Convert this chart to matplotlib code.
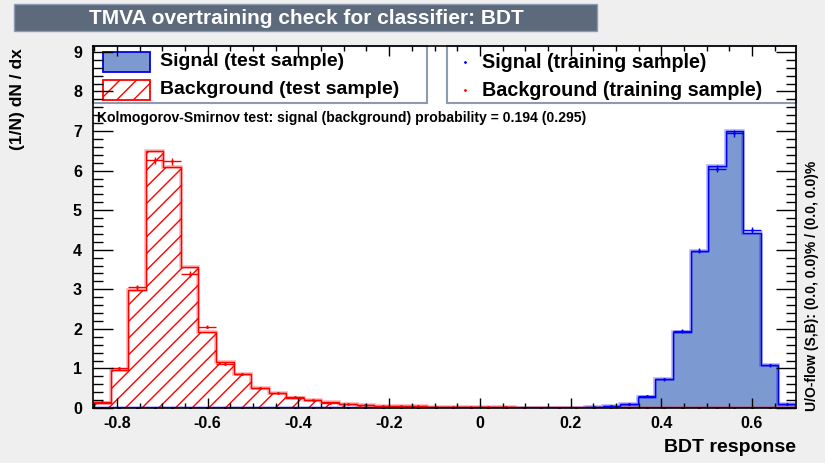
import numpy as np
import matplotlib.pyplot as plt
from matplotlib.patches import Rectangle
from matplotlib.ticker import MultipleLocator

plt.rcParams['font.family'] = ['Liberation Sans', 'DejaVu Sans']
plt.rcParams['font.weight'] = 'bold'
plt.rcParams['hatch.linewidth'] = 1.0

# 40 bins of BDT response
xmin, xmax = -0.853, 0.697
nbins = 40

sig_test = [0, 0, 0, 0, 0, 0, 0, 0, 0, 0,
            0, 0, 0, 0, 0, 0, 0, 0, 0, 0,
            0.005, 0.005, 0.005, 0.005, 0.005, 0.005, 0.01, 0.01, 0.03, 0.05,
            0.10, 0.29, 0.73, 1.93, 3.96, 6.11, 6.99, 4.43, 1.09, 0.10]
sig_train = [0, 0, 0, 0, 0, 0, 0, 0, 0, 0,
             0, 0, 0, 0, 0, 0, 0, 0, 0, 0,
             0.005, 0.005, 0.005, 0.005, 0.005, 0.01, 0.01, 0.01, 0.03, 0.05,
             0.10, 0.30, 0.73, 1.95, 3.98, 6.05, 6.94, 4.50, 1.08, 0.10]
sig_err = [0, 0, 0, 0, 0, 0, 0, 0, 0, 0,
           0, 0, 0, 0, 0, 0, 0, 0, 0, 0,
           0.005, 0.005, 0.005, 0.005, 0.005, 0.005, 0.005, 0.005, 0.01, 0.01,
           0.02, 0.03, 0.04, 0.05, 0.06, 0.08, 0.09, 0.07, 0.04, 0.01]

bkg_test = [0.12, 0.96, 2.97, 6.50, 6.09, 3.56, 1.93, 1.17, 0.85, 0.50,
            0.37, 0.25, 0.19, 0.14, 0.10, 0.08, 0.06, 0.05, 0.04, 0.03,
            0.03, 0.02, 0.02, 0.02, 0.01, 0.01, 0.01, 0.01, 0.01, 0.005,
            0.005, 0, 0, 0, 0, 0, 0, 0, 0, 0]
bkg_train = [0.15, 1.00, 3.05, 6.26, 6.24, 3.39, 2.06, 1.12, 0.86, 0.50,
             0.37, 0.27, 0.19, 0.13, 0.10, 0.08, 0.06, 0.05, 0.04, 0.03,
             0.03, 0.02, 0.02, 0.02, 0.01, 0.01, 0.01, 0.01, 0.01, 0.005,
             0.005, 0, 0, 0, 0, 0, 0, 0, 0, 0]
bkg_err = [0.02, 0.04, 0.06, 0.09, 0.09, 0.07, 0.05, 0.04, 0.03, 0.03,
           0.02, 0.02, 0.02, 0.01, 0.01, 0.01, 0.01, 0.01, 0.01, 0.01,
           0.01, 0.01, 0.01, 0.01, 0.005, 0.005, 0.005, 0.005, 0.005, 0.005,
           0.005, 0, 0, 0, 0, 0, 0, 0, 0, 0]

W, H = 825, 463
def fx(x): return x / W
def fy(y): return 1 - y / H

fig = plt.figure(figsize=(8.25, 4.63), dpi=100, facecolor='#efefef')
ax = fig.add_axes([fx(93), fy(408), fx(796) - fx(93), fy(46) - fy(408)])
ax.set_facecolor('white')
tf = fig.transFigure

edges = np.linspace(xmin, xmax, nbins + 1)
centers = 0.5 * (edges[1:] + edges[:-1])
bw = edges[1] - edges[0]

sigcol = '#7d99d1'
# signal test
ax.stairs(sig_test, edges, fill=True, facecolor=sigcol, edgecolor='none', zorder=2)
ax.stairs(sig_test, edges, color='#0000ee', lw=2.6, alpha=0.3, zorder=3)
ax.stairs(sig_test, edges, color='#0000ee', lw=1.0, zorder=3)
# background test
ax.stairs(bkg_test, edges, fill=True, facecolor='none', edgecolor='red', hatch='//', lw=0, zorder=2)
ax.stairs(bkg_test, edges, color='red', lw=2.6, alpha=0.3, zorder=3)
ax.stairs(bkg_test, edges, color='red', lw=1.0, zorder=3)

# training points
ax.errorbar(centers, sig_train, xerr=bw / 2, yerr=sig_err, fmt='.', ms=2,
            color='blue', lw=1, capsize=0, zorder=4)
ax.errorbar(centers, bkg_train, xerr=bw / 2, yerr=bkg_err, fmt='.', ms=2,
            color='red', lw=1, capsize=0, zorder=4)

ax.set_xlim(xmin, xmax)
ax.set_ylim(0, 9.15)
ax.xaxis.set_major_locator(MultipleLocator(0.2))
ax.xaxis.set_minor_locator(MultipleLocator(0.05))
ax.yaxis.set_major_locator(MultipleLocator(1))
ax.yaxis.set_minor_locator(MultipleLocator(0.2))
ax.tick_params(axis='both', which='both', direction='in', top=True, right=True,
               labelsize=11.5, width=1)
ax.tick_params(axis='x', which='major', length=7.2, pad=6)
ax.tick_params(axis='x', which='minor', length=3.6)
ax.tick_params(axis='y', which='major', length=14.4, pad=8)
ax.tick_params(axis='y', which='minor', length=7.2)
ax.set_xticks(ax.get_xticks())
ax.set_xticklabels(['%g' % t if abs(t) > 1e-9 else '0' for t in ax.get_xticks()])
ax.set_xlim(xmin, xmax)
for lab in ax.get_xticklabels() + ax.get_yticklabels():
    lab.set_fontweight('bold')
for s in ax.spines.values():
    s.set_linewidth(1.2)
    s.set_zorder(7)
ax.xaxis.set_zorder(7)
ax.yaxis.set_zorder(7)

# title box
fig.add_artist(Rectangle((fx(14), fy(31)), fx(597) - fx(14), fy(4) - fy(31),
                         transform=tf, facecolor='#5c6a7c',
                         edgecolor='#8c9bb0', lw=1))
fig.text(fx(306), fy(18), 'TMVA overtraining check for classifier: BDT',
         color='white', fontsize=15, fontweight='bold', ha='center', va='center')

# legend boxes (drawn under the axis ticks)
for x0, x1 in [(93, 427), (447, 796)]:
    ax.add_patch(Rectangle((fx(x0), fy(103)), fx(x1) - fx(x0), fy(46) - fy(103),
                           transform=tf, facecolor='white', clip_on=False,
                           edgecolor='#8c9bb0', lw=1.5, zorder=5))
ax.add_patch(Rectangle((fx(103), fy(72)), fx(150) - fx(103), fy(52) - fy(72),
                       transform=tf, facecolor=sigcol, clip_on=False,
                       edgecolor='#0000ee', lw=1.3, zorder=6))
ax.add_patch(Rectangle((fx(103), fy(100)), fx(150) - fx(103), fy(80) - fy(100),
                       transform=tf, facecolor='white', clip_on=False,
                       edgecolor='red', hatch='//', lw=1.3, zorder=6))
ax.text(fx(160), fy(62), 'Signal (test sample)', fontsize=14, fontweight='bold',
        va='center', transform=tf, zorder=6)
ax.text(fx(160), fy(90), 'Background (test sample)', fontsize=14, fontweight='bold',
        va='center', transform=tf, zorder=6)
ax.plot([fx(465)], [fy(62)], '.', color='blue', ms=2, transform=tf, clip_on=False, zorder=6)
ax.plot([fx(465)], [fy(90)], '.', color='red', ms=2, transform=tf, clip_on=False, zorder=6)
ax.text(fx(482), fy(62), 'Signal (training sample)', fontsize=14.2, fontweight='bold',
        va='center', transform=tf, zorder=6)
ax.text(fx(482), fy(90), 'Background (training sample)', fontsize=14.2, fontweight='bold',
        va='center', transform=tf, zorder=6)

fig.text(fx(97), fy(118), 'Kolmogorov-Smirnov test: signal (background) probability = 0.194 (0.295)',
         fontsize=10.1, fontweight='bold', va='center')

fig.text(fx(796), fy(448), 'BDT response', fontsize=14, fontweight='bold',
         ha='right', va='center')
fig.text(fx(18), fy(48), '(1/N) dN / dx', fontsize=12.5, fontweight='bold',
         rotation=90, ha='center', va='top')
fig.text(fx(812), fy(411), 'U/O-flow (S,B): (0.0, 0.0)% / (0.0, 0.0)%', fontsize=10,
         fontweight='bold', rotation=90, ha='center', va='bottom')

fig.savefig('out.png', dpi=100, facecolor=fig.get_facecolor())
